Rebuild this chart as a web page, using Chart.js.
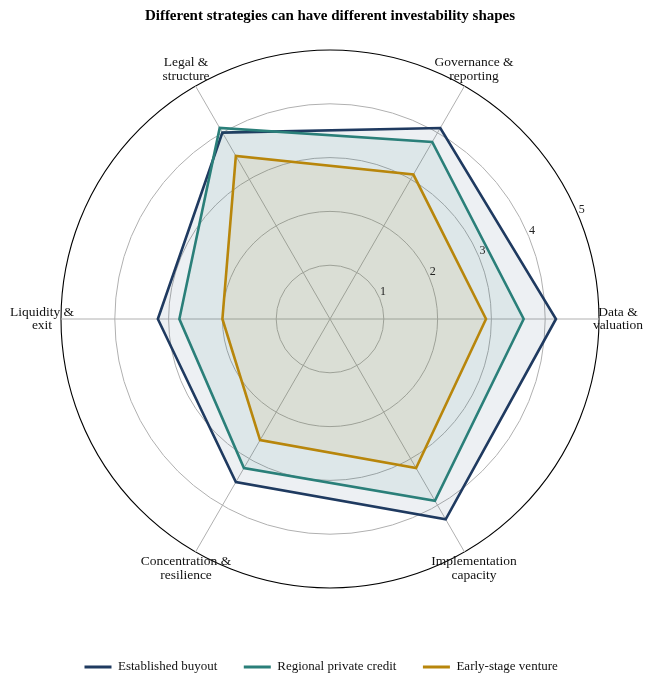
<!DOCTYPE html>
<html>
<head>
<meta charset="utf-8">
<title>Investability shapes</title>
<script src="https://cdn.jsdelivr.net/npm/chart.js@4.4.1/dist/chart.umd.min.js"></script>
<style>
  html, body { margin: 0; padding: 0; background: #fff; }
  #wrap { width: 655px; height: 689px; }
</style>
</head>
<body>
<div id="wrap"><canvas id="radar" width="655" height="689"></canvas></div>
<script>
// axes, clockwise from the right (chart.js goes clockwise)
const categories = [
    ['Data &', 'valuation'],
    ['Implementation', 'capacity'],
    ['Concentration &', 'resilience'],
    ['Liquidity &', 'exit'],
    ['Legal &', 'structure'],
    ['Governance &', 'reporting']
];
const seriesNames = ['Established buyout', 'Regional private credit', 'Early-stage venture'];
const buyout = [4.2, 4.3, 3.5, 3.2, 4.0, 4.1];
const privateCredit = [3.6, 3.9, 3.2, 2.8, 4.1, 3.8];
const venture = [2.9, 3.2, 2.6, 2.0, 3.5, 3.1];
const tickValues = [1, 2, 3, 4, 5];

const lineColors = ['#1f3a60', '#2a7f79', '#b8860b'];
const fillColors = ['rgba(31,58,96,0.08)', 'rgba(42,127,121,0.08)', 'rgba(184,134,11,0.09)'];
const serif = "'Liberation Serif', 'DejaVu Serif', serif";

// tick numbers sit along 22.5 deg, between the first two spokes
const tickLabelsPlugin = {
    id: 'tickLabels',
    afterDatasetsDraw(chart) {
        const scale = chart.scales.r;
        const ctx = chart.ctx;
        const a = 22.5 * Math.PI / 180;
        ctx.save();
        ctx.font = '12px ' + serif;
        ctx.fillStyle = '#222';
        ctx.textAlign = 'center';
        ctx.textBaseline = 'middle';
        tickValues.forEach(v => {
            const d = scale.getDistanceFromCenterForValue(v);
            const x = scale.xCenter + Math.cos(a) * d + 3.3;
            const y = scale.yCenter - Math.sin(a) * d - 6.2;
            ctx.fillText(String(v), x, y);
        });
        ctx.restore();
    }
};

// centred spoke labels just outside the outer ring
const spokeLabelsPlugin = {
    id: 'spokeLabels',
    afterDatasetsDraw(chart) {
        const scale = chart.scales.r;
        const ctx = chart.ctx;
        const lh = 13.5;
        ctx.save();
        ctx.font = '13.5px ' + serif;
        ctx.fillStyle = '#111';
        ctx.textAlign = 'center';
        ctx.textBaseline = 'middle';
        categories.forEach((lines, i) => {
            const p = scale.getPointPosition(i, scale.drawingArea + 19);
            const y0 = p.y - (lines.length - 1) * lh / 2;
            lines.forEach((t, k) => ctx.fillText(t, p.x, y0 + k * lh));
        });
        ctx.restore();
    }
};

const seriesData = [buyout, privateCredit, venture];
const datasets = seriesData.map((vals, i) => ({
    label: seriesNames[i],
    data: vals,
    borderColor: lineColors[i],
    backgroundColor: fillColors[i],
    borderWidth: 2.6,
    borderJoinStyle: 'miter',
    pointRadius: 0,
    pointHoverRadius: 0,
    fill: 'origin',
    order: seriesData.length - i
}));

const ctx = document.getElementById('radar').getContext('2d');
const chart = new Chart(ctx, {
    type: 'radar',
    data: {
        labels: categories,
        datasets: datasets
    },
    plugins: [tickLabelsPlugin, spokeLabelsPlugin],
    options: {
        responsive: false,
        animation: false,
        devicePixelRatio: 1,
        layout: {
            padding: { left: 58, right: 53, top: 0, bottom: 5.5 }
        },
        elements: {
            line: { tension: 0 }
        },
        scales: {
            r: {
                min: 0,
                max: 5,
                startAngle: 90,
                ticks: { display: false, stepSize: 1 },
                pointLabels: { display: false },
                grid: {
                    circular: true,
                    color: c => (c.tick && c.tick.value === 5) ? '#000' : '#b0b0b0',
                    lineWidth: c => (c.tick && c.tick.value === 5) ? 1.1 : 1
                },
                angleLines: { display: true, color: '#b0b0b0', lineWidth: 1 }
            }
        },
        plugins: {
            title: {
                display: true,
                text: 'Different strategies can have different investability shapes',
                color: '#000',
                font: { family: serif, size: 15, weight: 'bold', lineHeight: 1.2 },
                padding: { top: 7, bottom: 25 }
            },
            subtitle: {
                // empty spacer between the plot and the legend
                display: true,
                position: 'bottom',
                weight: 500,
                text: ' ',
                font: { size: 10, lineHeight: 1 },
                padding: { top: 0, bottom: 35 }
            },
            legend: {
                position: 'bottom',
                align: 'start',
                labels: {
                    boxWidth: 27,
                    boxHeight: 3,
                    padding: 26.5,
                    color: '#111',
                    font: { family: serif, size: 13 },
                    generateLabels: function(ch) {
                        return ch.data.datasets.map((ds, i) => ({
                            text: ds.label,
                            fillStyle: ds.borderColor,
                            strokeStyle: ds.borderColor,
                            lineWidth: 0,
                            hidden: false,
                            datasetIndex: i,
                            fontColor: '#111'
                        }));
                    }
                }
            },
            tooltip: { enabled: false }
        }
    }
});
</script>
</body>
</html>
